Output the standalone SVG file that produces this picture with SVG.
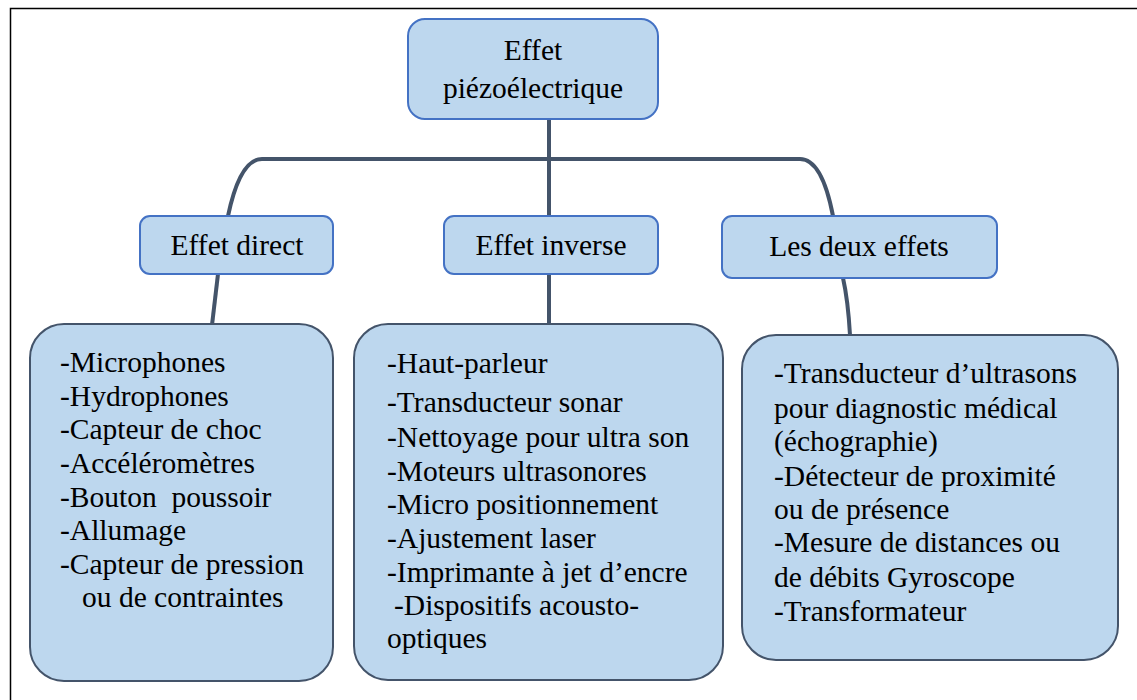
<svg xmlns="http://www.w3.org/2000/svg" width="1137" height="700" viewBox="0 0 1137 700">
<style>
.head{fill:#bdd7ee;stroke:#4472c4;stroke-width:2}
.box{fill:#bdd7ee;stroke:#44546a;stroke-width:2}
.conn{fill:none;stroke:#44546a;stroke-width:4}
.c{text-anchor:middle}
</style>
<rect width="1137" height="700" fill="#fff"/>
<path d="M1137 8.5 H10.5 V700" fill="none" stroke="#000" stroke-width="1.5"/>
<g id="connectors">
<path class="conn" d="M549 119 V216"/>
<path class="conn" d="M228 216 Q240 159 262 159 H800 Q822 159 833 216"/>
<path class="conn" d="M218 274 L212 325"/>
<path class="conn" d="M549 274 V324"/>
<path class="conn" d="M843 278 Q848 300 850 335"/>
</g>
<g font-family="Liberation Serif, serif" font-size="29.5" fill="#000">
<g id="root">
<rect class="head" x="408" y="19" width="250" height="100" rx="17"/>
<text class="c" x="533" y="60">Effet</text>
<text class="c" x="533" y="98">piézoélectrique</text>
</g>
<g id="direct">
<rect class="head" x="140" y="216" width="193" height="58" rx="10"/>
<text class="c" x="237" y="255">Effet direct</text>
</g>
<g id="inverse">
<rect class="head" x="444" y="216" width="214" height="58" rx="10"/>
<text class="c" x="551" y="255">Effet inverse</text>
</g>
<g id="deux">
<rect class="head" x="722" y="216" width="275" height="62" rx="10"/>
<text class="c" x="859" y="256">Les deux effets</text>
</g>
<g id="list-direct">
<rect class="box" x="30" y="324" width="303" height="357" rx="34"/>
<text x="60" y="372">-Microphones</text>
<text x="60" y="406">-Hydrophones</text>
<text x="60" y="439">-Capteur de choc</text>
<text x="60" y="473">-Accéléromètres</text>
<text x="60" y="507" xml:space="preserve">-Bouton  poussoir</text>
<text x="60" y="540">-Allumage</text>
<text x="60" y="574">-Capteur de pression</text>
<text x="82" y="607">ou de contraintes</text>
</g>
<g id="list-inverse">
<rect class="box" x="354" y="324" width="369" height="356" rx="34"/>
<text x="387" y="373">-Haut-parleur</text>
<text x="387" y="412">-Transducteur sonar</text>
<text x="387" y="447">-Nettoyage pour ultra son</text>
<text x="387" y="481">-Moteurs ultrasonores</text>
<text x="387" y="514">-Micro positionnement</text>
<text x="387" y="548">-Ajustement laser</text>
<text x="387" y="582">-Imprimante à jet d’encre</text>
<text x="394" y="615">-Dispositifs acousto-</text>
<text x="387" y="648">optiques</text>
</g>
<g id="list-deux">
<rect class="box" x="742" y="335" width="376" height="325" rx="34"/>
<text x="774" y="383">-Transducteur d’ultrasons</text>
<text x="774" y="418">pour diagnostic médical</text>
<text x="774" y="451">(échographie)</text>
<text x="774" y="486">-Détecteur de proximité</text>
<text x="774" y="519">ou de présence</text>
<text x="774" y="552">-Mesure de distances ou</text>
<text x="774" y="587">de débits Gyroscope</text>
<text x="774" y="621">-Transformateur</text>
</g>
</g>
</svg>
